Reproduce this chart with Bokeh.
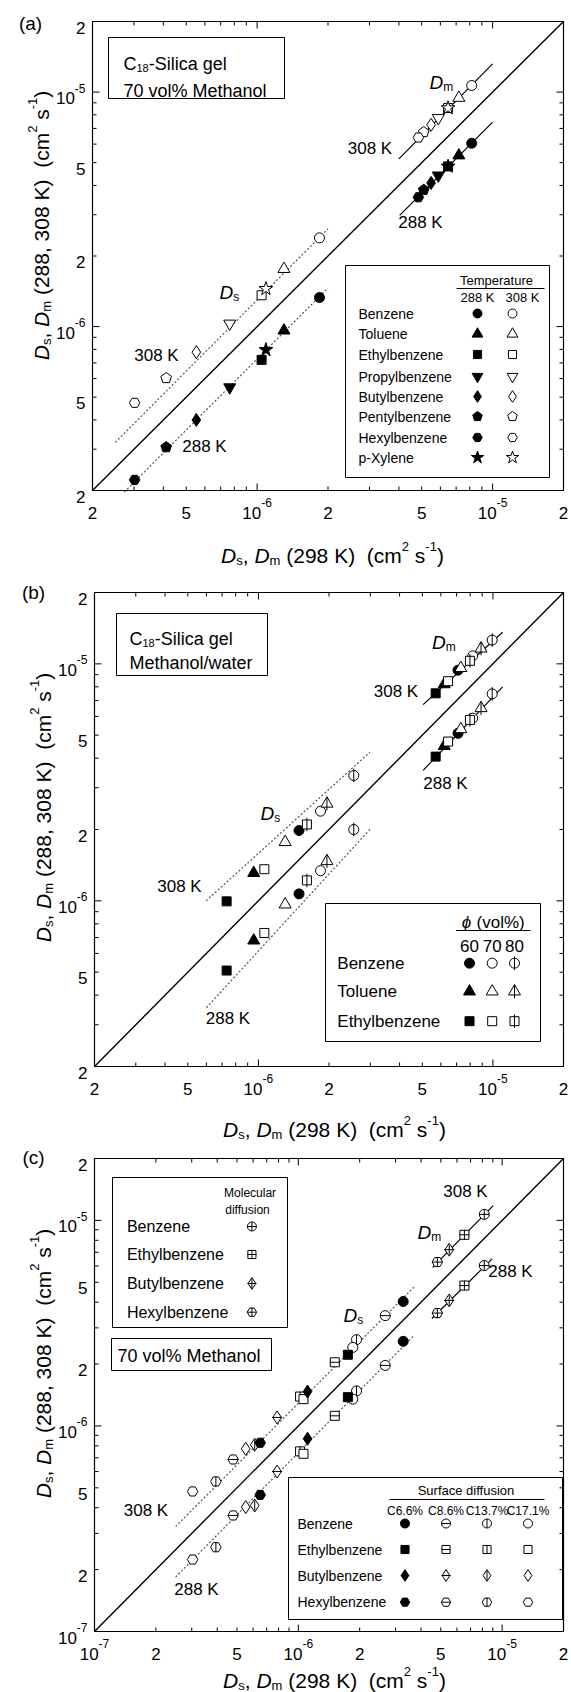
import math
from bokeh.plotting import figure
from bokeh.models import Label, BoxAnnotation, Range1d
from bokeh.layouts import column
from bokeh.embed import file_html
from bokeh.resources import INLINE

FONT = "Liberation Sans"

# ---------------- data: panel (a) ----------------
A_NAMES = ["Benzene", "Toluene", "Ethylbenzene", "Propylbenzene", "Butylbenzene",
           "Pentylbenzene", "Hexylbenzene", "p-Xylene"]
A_SHAPES = ["circle", "triangle", "square", "inverted_triangle", "diamond", "pentagon", "hex", "star"]
A_DM_298 = [8.15e-6, 7.19e-6, 6.47e-6, 5.88e-6, 5.48e-6, 5.10e-6, 4.84e-6, 6.47e-6]
A_DM_288 = [6.05e-6, 5.37e-6, 4.82e-6, 4.41e-6, 4.10e-6, 3.83e-6, 3.56e-6, 4.82e-6]
A_DM_308 = [1.067e-5, 9.45e-6, 8.55e-6, 7.75e-6, 7.25e-6, 6.75e-6, 6.40e-6, 8.55e-6]
A_DS_298 = [1.84e-6, 1.30e-6, 1.045e-6, 7.65e-7, 5.52e-7, 4.11e-7, 3.02e-7, 1.09e-6]
A_DS_288 = [1.33e-6, 9.62e-7, 7.21e-7, 5.51e-7, 4.00e-7, 3.06e-7, 2.22e-7, 7.96e-7]
A_DS_308 = [2.39e-6, 1.76e-6, 1.36e-6, 1.03e-6, 7.78e-7, 6.03e-7, 4.73e-7, 1.45e-6]
A_DM308_FIT = ([4.0e-6, 1.0e-5], [5.19e-6, 1.32e-5])
A_DM288_FIT = ([4.03e-6, 1.0e-5], [2.98e-6, 7.45e-6])
A_DS308_FIT = ([2.5e-7, 2.0e-6], [3.21e-7, 2.61e-6])
A_DS288_FIT = ([2.73e-7, 2.0e-6], [1.97e-7, 1.46e-6])

# ---------------- data: panel (b) ----------------
B_NAMES = ["Benzene", "Toluene", "Ethylbenzene"]
B_SHAPES = ["circle", "triangle", "square"]
B_PHI = ["60", "70", "80"]
B_DM_298 = [[7.1e-6, 8.2e-6, 9.93e-6], [6.2e-6, 7.3e-6, 8.9e-6], [5.70e-6, 6.44e-6, 7.98e-6]]
B_DM_308 = [[9.4e-6, 1.08e-5, 1.26e-5], [8.2e-6, 9.6e-6, 1.16e-5], [7.51e-6, 8.45e-6, 1.03e-5]]
B_DM_288 = [[5.09e-6, 5.9e-6, 7.47e-6], [4.5e-6, 5.3e-6, 6.5e-6], [4.06e-6, 4.7e-6, 5.8e-6]]
B_DS_298 = [[1.49e-6, 1.84e-6, 2.55e-6], [9.55e-7, 1.30e-6, 1.96e-6], [7.32e-7, 1.06e-6, 1.61e-6]]
B_DS_308 = [[1.98e-6, 2.39e-6, 3.38e-6], [1.31e-6, 1.77e-6, 2.57e-6], [9.95e-7, 1.36e-6, 2.10e-6]]
B_DS_288 = [[1.07e-6, 1.34e-6, 2.00e-6], [6.80e-7, 9.65e-7, 1.47e-6], [5.08e-7, 7.32e-7, 1.22e-6]]
B_DM308_FIT = ([5.04e-6, 1.10e-5], [6.73e-6, 1.36e-5])
B_DM288_FIT = ([5.04e-6, 1.10e-5], [3.55e-6, 8.0e-6])
B_DS308_FIT = ([5.98e-7, 2.99e-6], [1.0e-6, 4.24e-6])
B_DS288_FIT = ([6.0e-7, 3.0e-6], [3.54e-7, 2.01e-6])

# ---------------- data: panel (c) ----------------
C_NAMES = ["Benzene", "Ethylbenzene", "Butylbenzene", "Hexylbenzene"]
C_SHAPES = ["circle", "square", "diamond", "hex"]
C_PHASES = ["C6.6%", "C8.6%", "C13.7%", "C17.1%"]
C_DM_298 = [8.17e-6, 6.53e-6, 5.50e-6, 4.81e-6]
C_DM_308 = [1.07e-5, 8.51e-6, 7.20e-6, 6.27e-6]
C_DM_288 = [6.03e-6, 4.82e-6, 4.08e-6, 3.54e-6]
C_DS_298 = [[3.27e-6, 2.67e-6, 1.93e-6, 1.85e-6],
            [1.75e-6, 1.51e-6, 1.02e-6, 1.06e-6],
            [1.11e-6, 7.87e-7, 6.11e-7, 5.52e-7],
            [6.50e-7, 4.79e-7, 3.94e-7, 3.03e-7]]
C_DS_308 = [[4.03e-6, 3.44e-6, 2.63e-6, 2.41e-6],
            [2.22e-6, 2.04e-6, 1.39e-6, 1.35e-6],
            [1.47e-6, 1.10e-6, 8.10e-7, 7.74e-7],
            [8.28e-7, 6.87e-7, 5.37e-7, 4.80e-7]]
C_DS_288 = [[2.58e-6, 1.97e-6, 1.48e-6, 1.35e-6],
            [1.38e-6, 1.12e-6, 7.52e-7, 7.32e-7],
            [8.67e-7, 6.00e-7, 4.10e-7, 4.03e-7],
            [4.62e-7, 3.67e-7, 2.57e-7, 2.24e-7]]
C_DM308_FIT = ([4.56e-6, 9.04e-6], [5.91e-6, 1.18e-5])
C_DM288_FIT = ([4.52e-6, 8.94e-6], [3.33e-6, 6.5e-6])
C_DS308_FIT = ([2.5e-7, 3.69e-6], [3.24e-7, 4.73e-6])
C_DS288_FIT = ([2.5e-7, 3.69e-6], [1.84e-7, 2.75e-6])

# ---------------- axes ----------------
RANGE_AB = [2e-7, 2e-5]
RANGE_C = [1e-7, 2e-5]
LABELS_AB = [2e-7, 5e-7, 1e-6, 2e-6, 5e-6, 1e-5, 2e-5]
LABELS_C = [1e-7, 2e-7, 5e-7, 1e-6, 2e-6, 5e-6, 1e-5, 2e-5]
DECADES = [1e-7, 1e-6, 1e-5]
MINORS = [m * d for d in [1e-7, 1e-6] for m in range(2, 10)] + [2e-5]

AW = {' ': 278, '!': 278, '%': 889, '(': 333, ')': 333, ',': 278, '-': 333, '.': 278, '/': 278,
      'A': 667, 'B': 667, 'C': 722, 'D': 722, 'E': 667, 'F': 611, 'G': 778, 'H': 722, 'I': 278,
      'J': 500, 'K': 667, 'L': 556, 'M': 833, 'N': 722, 'O': 778, 'P': 667, 'Q': 778, 'R': 722,
      'S': 667, 'T': 611, 'U': 722, 'V': 667, 'W': 944, 'X': 667, 'Y': 667, 'Z': 611,
      'a': 556, 'b': 556, 'c': 500, 'd': 556, 'e': 556, 'f': 278, 'g': 556, 'h': 556, 'i': 222,
      'j': 222, 'k': 500, 'l': 222, 'm': 833, 'n': 556, 'o': 556, 'p': 556, 'q': 556, 'r': 333,
      's': 500, 't': 278, 'u': 556, 'v': 500, 'w': 722, 'x': 500, 'y': 500, 'z': 500, 'ϕ': 600}


def tw(s, size):
    return sum(AW.get(c, 556) for c in s) / 1000.0 * size


class Panel:
    """Maps page pixels <-> data values for one log-log panel (box = plotting area)."""
    def __init__(self, left, top, fw, fh, rng):
        self.left, self.top, self.fw, self.fh = left, top, fw, fh
        self.rng = rng
        self.l0, self.l1 = math.log10(rng[0]), math.log10(rng[1])

    def X(self, px):
        return 10 ** (self.l0 + (px - self.left) / self.fw * (self.l1 - self.l0))

    def Y(self, py):
        return 10 ** (self.l1 - (py - self.top) / self.fh * (self.l1 - self.l0))

    def px(self, v):
        return self.left + (math.log10(v) - self.l0) / (self.l1 - self.l0) * self.fw

    def py(self, v):
        return self.top + (self.l1 - math.log10(v)) / (self.l1 - self.l0) * self.fh

    def dx(self):
        return (self.l1 - self.l0) / self.fw

    def dy(self):
        return (self.l1 - self.l0) / self.fh


def label(p, P, x, y, text, size, align="center", style="normal"):
    p.add_layout(Label(x=P.X(x), y=P.Y(y), text=text, text_font=FONT, text_font_size=f"{size}px",
                       text_font_style=style, text_align=align, text_baseline="middle",
                       text_color="black"))


def rich(p, P, x, y, pieces, align="left", angle=0.0):
    total = sum(tw(t, s) for t, s, st, sh in pieces)
    cur = {"left": 0.0, "center": -total / 2.0, "right": -total}[align]
    for t, s, st, sh in pieces:
        lead = len(t) - len(t.lstrip(" "))
        body = t.strip(" ")
        off = cur + tw(" " * lead, s)
        if body:
            if angle == 0:
                lx, ly = x + off, y - sh
            else:
                lx, ly = x - sh, y - off
            p.add_layout(Label(x=P.X(lx), y=P.Y(ly), text=body, text_font=FONT,
                               text_font_size=f"{s}px", text_font_style=st, text_align="left",
                               text_baseline="alphabetic", angle=angle, text_color="black"))
        cur += tw(t, s)


SIZE_F = {"circle": 1.0, "triangle": 1.2, "inverted_triangle": 1.2, "square": 0.9,
          "diamond": 1.3, "hex": 1.05, "star": 1.45}


def marks(p, P, xs, ys, shape, style, size=10, bar=1.0):
    xs, ys = list(xs), list(ys)
    fill = "black" if style == "filled" else "white"
    if shape == "pentagon":
        r = size * 0.56
        XS, YS = [], []
        for x, y in zip(xs, ys):
            XS.append([x * 10 ** (r * math.cos(math.pi / 2 + 2 * math.pi * k / 5) * P.dx()) for k in range(5)])
            YS.append([y * 10 ** (r * math.sin(math.pi / 2 + 2 * math.pi * k / 5) * P.dy()) for k in range(5)])
        p.patches(XS, YS, fill_color=fill, line_color="black", line_width=1)
    else:
        p.scatter(xs, ys, marker=shape, size=size * SIZE_F[shape], fill_color=fill,
                  line_color="black", line_width=1)
    if style == "hbar":
        p.scatter(xs, ys, marker="dash", size=size * bar, line_color="black", line_width=1)
    elif style == "vbar":
        p.scatter(xs, ys, marker="dash", size=size * bar, angle=math.pi / 2,
                  line_color="black", line_width=1)
    elif style == "plus":
        p.scatter(xs, ys, marker="cross", size=size * bar, line_color="black", line_width=1)


def box(p, P, l, t, r, b, width=1):
    p.add_layout(BoxAnnotation(left=P.X(l), right=P.X(r), top=P.Y(t), bottom=P.Y(b),
                               fill_alpha=0, line_color="black", line_alpha=1, line_width=width))


def hline(p, P, l, r, y):
    p.segment(x0=[P.X(l)], y0=[P.Y(y)], x1=[P.X(r)], y1=[P.Y(y)], line_color="black", line_width=1)


def make_fig(P, fig_top, height):
    p = figure(width=571, height=height, x_axis_type="log", y_axis_type="log",
               x_range=Range1d(P.X(0), P.X(571)),
               y_range=Range1d(P.Y(fig_top + height), P.Y(fig_top)),
               x_axis_location=None, y_axis_location=None, output_backend="svg",
               toolbar_location=None, min_border=0)
    p.grid.visible = False
    p.outline_line_color = None
    p.background_fill_color = "white"
    p.border_fill_color = "white"
    lo, hi = P.rng
    # plotting box and tick marks on all four sides
    box(p, P, P.left, P.top, P.left + P.fw, P.top + P.fh, width=1.2)
    majors = [v for v in DECADES if lo < v < hi]
    minors = [v for v in MINORS if lo < v < hi and v not in majors]
    x0, y0, x1, y1 = [], [], [], []
    for v, L in [(m, 7) for m in majors] + [(m, 4) for m in minors]:
        x0 += [v, v, lo, hi]
        y0 += [lo, hi, v, v]
        x1 += [v, v, P.X(P.left + L), P.X(P.left + P.fw - L)]
        y1 += [P.Y(P.top + P.fh - L), P.Y(P.top + L), v, v]
    p.segment(x0, y0, x1, y1, line_color="black", line_width=1)
    # y = x diagonal
    p.line(P.rng, P.rng, line_color="black", line_width=1.4)
    return p


def tick_labels(p, P, labels):
    for v in labels:
        e = math.floor(math.log10(v) + 1e-9)
        m = round(v / 10 ** e)
        if m == 1:
            pieces = [("10", 17, "normal", 0), (f"-{abs(e)}", 12, "normal", 10)]
        else:
            pieces = [(str(m), 17, "normal", 0)]
        rich(p, P, P.px(v), P.top + P.fh + 22, pieces, align="center")
        rich(p, P, P.left - 7, P.py(v) + 6, pieces, align="right")


def titles(p, P, xcx, xbase, ycx, ycy, ylab):
    xp = [("D", 21, "italic", 0), ("s", 13, "normal", -5), (", ", 21, "normal", 0),
          ("D", 21, "italic", 0), ("m", 13, "normal", -5), (" (298 K)", 21, "normal", 0),
          ("  (cm", 21, "normal", 0), ("2", 13, "normal", 9), (" s", 21, "normal", 0),
          ("-1", 13, "normal", 9), (")", 21, "normal", 0)]
    rich(p, P, xcx, xbase, xp, align="center")
    yp = [("D", 21, "italic", 0), ("s", 13, "normal", -5), (", ", 21, "normal", 0),
          ("D", 21, "italic", 0), ("m", 13, "normal", -5), (ylab, 21, "normal", 0),
          ("  (cm", 21, "normal", 0), ("2", 13, "normal", 9), (" s", 21, "normal", 0),
          ("-1", 13, "normal", 9), (")", 21, "normal", 0)]
    rich(p, P, ycx, ycy, yp, align="center", angle=math.pi / 2)


def dsub(p, P, x, y, sub):
    rich(p, P, x, y, [("D", 19, "italic", 0), (sub, 12, "normal", -4)])


def fits(p, solid, dotted):
    for xs, ys in solid:
        p.line(xs, ys, line_color="black", line_width=1.2)
    for xs, ys in dotted:
        p.line(xs, ys, line_color="#555555", line_width=1.2, line_dash="2 2")


# ================= panel (a) =================
PA = Panel(92, 21, 471, 469, RANGE_AB)
pa = make_fig(PA, 0, 570)
fits(pa, [A_DM308_FIT, A_DM288_FIT], [A_DS308_FIT, A_DS288_FIT])
for i, sh in enumerate(A_SHAPES):
    marks(pa, PA, [A_DM_298[i]], [A_DM_308[i]], sh, "open")
    marks(pa, PA, [A_DM_298[i]], [A_DM_288[i]], sh, "filled")
    marks(pa, PA, [A_DS_298[i]], [A_DS_308[i]], sh, "open")
    marks(pa, PA, [A_DS_298[i]], [A_DS_288[i]], sh, "filled")
tick_labels(pa, PA, LABELS_AB)
titles(pa, PA, 332, 555, 41, 225, " (288, 308 K)")
label(pa, PA, 30, 23, "(a)", 19)
box(pa, PA, 108, 37, 284, 98)
rich(pa, PA, 123, 63, [("C", 18, "normal", 0), ("18", 11, "normal", -4), ("-Silica gel", 18, "normal", 0)])
rich(pa, PA, 123, 90, [("70 vol% Methanol", 18, "normal", 0)])
dsub(pa, PA, 429, 82, "m")
label(pa, PA, 369.5, 148, "308 K", 17)
label(pa, PA, 420, 222, "288 K", 17)
dsub(pa, PA, 219, 292, "s")
label(pa, PA, 156, 355, "308 K", 17)
label(pa, PA, 204, 446, "288 K", 17)
box(pa, PA, 345, 265, 549, 477)
label(pa, PA, 496, 280, "Temperature", 13)
hline(pa, PA, 456, 544, 288)
label(pa, PA, 477, 297, "288 K", 13)
label(pa, PA, 522, 297, "308 K", 13)
A_ROWS = [313, 333.5, 354, 376, 396, 416, 437, 457]
for i, nm in enumerate(A_NAMES):
    label(pa, PA, 358, A_ROWS[i], nm, 14, align="left")
    marks(pa, PA, [PA.X(477)], [PA.Y(A_ROWS[i])], A_SHAPES[i], "filled", size=9)
    marks(pa, PA, [PA.X(512)], [PA.Y(A_ROWS[i])], A_SHAPES[i], "open", size=9)

# ================= panel (b) =================
PB = Panel(94, 592, 469, 474, RANGE_AB)
pb = make_fig(PB, 570, 575)
fits(pb, [B_DM308_FIT, B_DM288_FIT], [B_DS308_FIT, B_DS288_FIT])
B_STYLES = ["filled", "open", "vbar"]
for i, sh in enumerate(B_SHAPES):
    for j, st in enumerate(B_STYLES):
        marks(pb, PB, [B_DM_298[i][j]], [B_DM_308[i][j]], sh, st, bar=1.35)
        marks(pb, PB, [B_DM_298[i][j]], [B_DM_288[i][j]], sh, st, bar=1.35)
        marks(pb, PB, [B_DS_298[i][j]], [B_DS_308[i][j]], sh, st, bar=1.35)
        marks(pb, PB, [B_DS_298[i][j]], [B_DS_288[i][j]], sh, st, bar=1.35)
tick_labels(pb, PB, LABELS_AB)
titles(pb, PB, 334, 1129, 43, 807, " (288, 308 K)")
label(pb, PB, 33, 592, "(b)", 19)
box(pb, PB, 116, 613, 267, 675)
rich(pb, PB, 129, 638, [("C", 18, "normal", 0), ("18", 11, "normal", -4), ("-Silica gel", 18, "normal", 0)])
rich(pb, PB, 129, 662, [("Methanol/water", 18, "normal", 0)])
dsub(pb, PB, 431.5, 642, "m")
label(pb, PB, 395.5, 690.5, "308 K", 17)
label(pb, PB, 445, 783, "288 K", 17)
dsub(pb, PB, 260, 813, "s")
label(pb, PB, 179, 886, "308 K", 17)
label(pb, PB, 227.5, 1017.5, "288 K", 17)
box(pb, PB, 325, 903, 540, 1041)
rich(pb, PB, 492.7, 922, [("ϕ", 17, "italic", 0), (" (vol%)", 17, "normal", 0)], align="center")
hline(pb, PB, 455.6, 530, 930)
B_COLS = [469, 491.7, 514]
for j, ph in enumerate(B_PHI):
    label(pb, PB, B_COLS[j], 945, ph, 17)
B_ROWS = [962.7, 991, 1020.7]
for i, nm in enumerate(B_NAMES):
    label(pb, PB, 336.8, B_ROWS[i], nm, 17, align="left")
    for j, st in enumerate(B_STYLES):
        marks(pb, PB, [PB.X(B_COLS[j])], [PB.Y(B_ROWS[i])], B_SHAPES[i], st, size=10, bar=1.35)

# ================= panel (c) =================
PC = Panel(94, 1158, 469, 473, RANGE_C)
pc = make_fig(PC, 1145, 547)
fits(pc, [C_DM308_FIT, C_DM288_FIT], [C_DS308_FIT, C_DS288_FIT])
C_STYLES = ["filled", "hbar", "vbar", "open"]
for i, sh in enumerate(C_SHAPES):
    marks(pc, PC, [C_DM_298[i]], [C_DM_308[i]], sh, "plus")
    marks(pc, PC, [C_DM_298[i]], [C_DM_288[i]], sh, "plus")
    for j, st in enumerate(C_STYLES):
        marks(pc, PC, [C_DS_298[i][j]], [C_DS_308[i][j]], sh, st)
        marks(pc, PC, [C_DS_298[i][j]], [C_DS_288[i][j]], sh, st)
tick_labels(pc, PC, LABELS_C)
titles(pc, PC, 334, 1680, 43, 1363, " (288, 308 K)")
label(pc, PC, 33, 1157, "(c)", 19)
box(pc, PC, 112, 1177, 287, 1327)
label(pc, PC, 249.6, 1192, "Molecular", 12)
label(pc, PC, 247, 1209, "diffusion", 12)
C_ROWS1 = [1226, 1254, 1283, 1311.7]
for i, nm in enumerate(C_NAMES):
    label(pc, PC, 126.4, C_ROWS1[i], nm, 16, align="left")
    marks(pc, PC, [PC.X(251.4)], [PC.Y(C_ROWS1[i])], C_SHAPES[i], "plus", size=9)
box(pc, PC, 111, 1338, 271, 1370)
label(pc, PC, 117, 1355, "70 vol% Methanol", 18, align="left")
label(pc, PC, 465, 1191, "308 K", 17)
dsub(pc, PC, 417, 1232, "m")
label(pc, PC, 510, 1271, "288 K", 17)
dsub(pc, PC, 343, 1315, "s")
label(pc, PC, 145.5, 1510, "308 K", 17)
label(pc, PC, 196, 1588.5, "288 K", 17)
box(pc, PC, 288, 1477, 562, 1619)
label(pc, PC, 465.5, 1490, "Surface diffusion", 13)
hline(pc, PC, 389, 544, 1499)
C_COLS = [404.5, 445.5, 486.5, 527.5]
for j, ph in enumerate(C_PHASES):
    label(pc, PC, C_COLS[j], 1510, ph, 12)
C_ROWS2 = [1523, 1549, 1575, 1601.7]
for i, nm in enumerate(C_NAMES):
    label(pc, PC, 297, C_ROWS2[i], nm, 14, align="left")
    for j, st in enumerate(C_STYLES):
        marks(pc, PC, [PC.X(C_COLS[j])], [PC.Y(C_ROWS2[i])], C_SHAPES[i], st, size=9)

layout = column(pa, pb, pc, spacing=0)
open("out.html", "w").write(file_html(layout, INLINE))
